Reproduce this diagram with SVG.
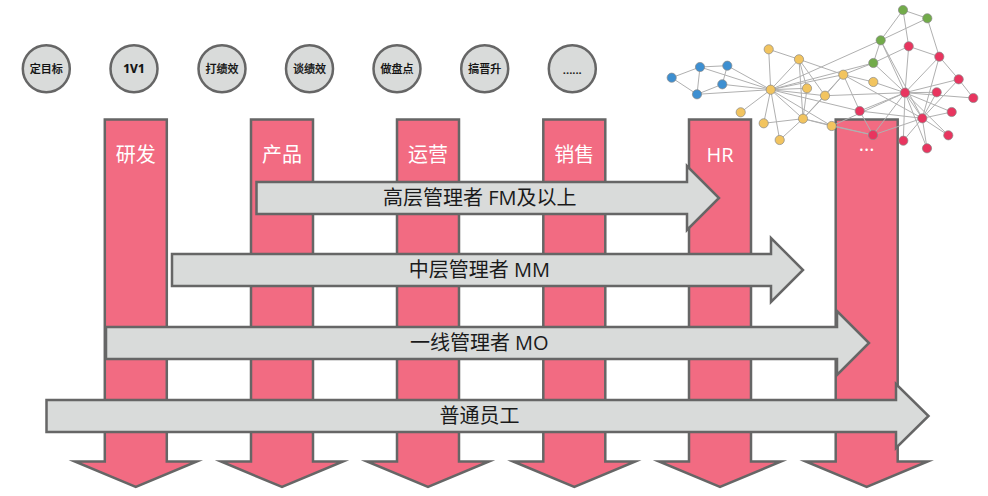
<svg xmlns="http://www.w3.org/2000/svg" width="988" height="496" viewBox="0 0 988 496">
<style>
text{font-family:"Open Sans","Noto Sans CJK SC",sans-serif;text-anchor:middle}
.c{fill:#d9dbda;stroke:#666;stroke-width:2.5}
.ct{font-size:11px;font-weight:500;fill:#111;stroke:#111;stroke-width:.2}
.p{fill:#f26b82;stroke:#666;stroke-width:2.5;stroke-linejoin:miter;stroke-miterlimit:10}
.pt{font-size:20px;fill:#fff}
.a{fill:#d9dbda;stroke:#666;stroke-width:2.5;stroke-miterlimit:10}
.at{font-size:20px;fill:#1a1a1a}
.e{stroke:#b0b0b0;stroke-width:1;fill:none}
.n{stroke:#888;stroke-width:.7}
.g{fill:#72ab4a}.r{fill:#e8355f}.y{fill:#f2c45f}.b{fill:#3d8fd1}
</style>
<defs>
<path id="pillar" d="M-31 119.5H31V461.5H61L0 487L-61 461.5H-31Z"/>
</defs>
<g id="step-1"><circle class="c" cx="46.3" cy="68.7" r="23.5"/><text class="ct" x="46.3" y="72.7">定目标</text></g>
<g id="step-2"><circle class="c" cx="134" cy="68.7" r="23.5"/><text class="ct" x="134" y="72.7" style="font-size:12px;font-weight:700">1V1</text></g>
<g id="step-3"><circle class="c" cx="222" cy="68.7" r="23.5"/><text class="ct" x="222" y="72.7">打绩效</text></g>
<g id="step-4"><circle class="c" cx="309.5" cy="68.7" r="23.5"/><text class="ct" x="309.5" y="72.7">谈绩效</text></g>
<g id="step-5"><circle class="c" cx="397" cy="68.7" r="23.5"/><text class="ct" x="397" y="72.7">做盘点</text></g>
<g id="step-6"><circle class="c" cx="484.7" cy="68.7" r="23.5"/><text class="ct" x="484.7" y="72.7">搞晋升</text></g>
<g id="step-7"><circle class="c" cx="572.3" cy="68.7" r="23.5"/><text class="ct" x="572.3" y="73.5" style="font-size:12px">......</text></g>

<g id="pillar-rd"><use href="#pillar" class="p" x="135.8"/><text class="pt" x="135.8" y="162">研发</text></g>
<g id="pillar-product"><use href="#pillar" class="p" x="282"/><text class="pt" x="282" y="162">产品</text></g>
<g id="pillar-ops"><use href="#pillar" class="p" x="428"/><text class="pt" x="428" y="162">运营</text></g>
<g id="pillar-sales"><use href="#pillar" class="p" x="574.3"/><text class="pt" x="574.3" y="162">销售</text></g>
<g id="pillar-hr"><use href="#pillar" class="p" x="720"/><text class="pt" x="720" y="162">HR</text></g>
<g id="pillar-more"><use href="#pillar" class="p" x="866.7"/><text class="pt" x="866.7" y="151">...</text></g>

<g id="arrow-fm"><path class="a" d="M256.5 182H687V166L719 198L687 230V214H256.5Z"/><text class="at" x="479.7" y="205">高层管理者 FM及以上</text></g>
<g id="arrow-mm"><path class="a" d="M172 254H771V238L803 270L771 302V286H172Z"/><text class="at" x="479.3" y="277">中层管理者 MM</text></g>
<g id="arrow-mo"><path class="a" d="M106 327H837V311L869 343L837 375V359H106Z"/><text class="at" x="479.3" y="350">一线管理者 MO</text></g>
<g id="arrow-staff"><path class="a" d="M46.5 400H896V384L928.5 416L896 448V432H46.5Z"/><text class="at" x="479.5" y="423">普通员工</text></g>

<g id="connectors" class="e">
<path d="M671.7 77.7L700 67M671.7 77.7L697 94.3M700 67L727.3 65.7M700 67L697 94.3M727.3 65.7L722.3 84.3M722.3 84.3L697 94.3M700 67L770.7 89.7M727.3 65.7L770.7 89.7M722.3 84.3L770.7 89.7M697 94.3L770.7 89.7"/>
<path d="M768.7 49.3L770.7 89.7M768.7 49.3L799 59.3M799 59.3L770.7 89.7M799 59.3L807 88.3M799 59.3L825 95.7M799 59.3L803 118.7M799 59.3L843.3 74.7M770.7 89.7L807 88.3M770.7 89.7L825 95.7M770.7 89.7L843.3 74.7M770.7 89.7L740.7 112.3M770.7 89.7L763.7 123.3M770.7 89.7L779.7 140M770.7 89.7L803 118.7M770.7 89.7L831.7 126M770.7 89.7L873.3 63M770.7 89.7L880.7 40.3M770.7 89.7L859.7 111M763.7 123.3L803 118.7M779.7 140L803 118.7M807 88.3L803 118.7M803 118.7L825 95.7M803 118.7L843.3 74.7M803 118.7L831.7 126M843.3 74.7L825 95.7M843.3 74.7L873.3 63M843.3 74.7L873.3 82M843.3 74.7L859.7 111M843.3 74.7L922.3 118.3M825 95.7L905 92.7M873.3 82L905 92.7"/>
<path d="M831.7 126L873 135M803 118.7L873 135M859.7 111L873 135M859.7 111L922.3 118.3M859.7 111L905 92.7M831.7 126L905 92.7M873 135L905 92.7M873 135L922.3 118.3"/>
<path d="M880.7 40.3L903 10M880.7 40.3L927.3 18.3M880.7 40.3L873.3 63M880.7 40.3L905 92.7M880.7 40.3L922.3 118.3M903 10L927.3 18.3M903 10L908.7 46.3M927.3 18.3L939.3 56.7M908.7 46.3L939.3 56.7M908.7 46.3L905 92.7M908.7 46.3L873.3 63M939.3 56.7L958.7 79.3M939.3 56.7L905 92.7M939.3 56.7L922.3 118.3M958.7 79.3L973.3 98M958.7 79.3L905 92.7M958.7 79.3L922.3 118.3M905 92.7L936.7 92.3M905 92.7L973.3 98M905 92.7L951.7 112M905 92.7L922.3 118.3M905 92.7L948.3 135.3M905 92.7L927 148.3M905 92.7L903.3 140.7M873.3 63L905 92.7M936.7 92.3L922.3 118.3M951.7 112L922.3 118.3M922.3 118.3L948.3 135.3M922.3 118.3L927 148.3M922.3 118.3L903.3 140.7"/>
</g>

<g id="gn-g1"><circle class="n g" cx="903" cy="10" r="4.6"/></g>
<g id="gn-g2"><circle class="n g" cx="927.3" cy="18.3" r="4.6"/></g>
<g id="gn-g3"><circle class="n g" cx="880.7" cy="40.3" r="4.6"/></g>
<g id="gn-g4"><circle class="n g" cx="873.3" cy="63" r="4.6"/></g>
<g id="gn-r1"><circle class="n r" cx="908.7" cy="46.3" r="4.6"/></g>
<g id="gn-r2"><circle class="n r" cx="939.3" cy="56.7" r="4.6"/></g>
<g id="gn-r3"><circle class="n r" cx="958.7" cy="79.3" r="4.6"/></g>
<g id="gn-r4"><circle class="n r" cx="973.3" cy="98" r="4.6"/></g>
<g id="gn-r5"><circle class="n r" cx="936.7" cy="92.3" r="4.6"/></g>
<g id="gn-r6"><circle class="n r" cx="905" cy="92.7" r="4.6"/></g>
<g id="gn-r7"><circle class="n r" cx="951.7" cy="112" r="4.6"/></g>
<g id="gn-r8"><circle class="n r" cx="922.3" cy="118.3" r="4.6"/></g>
<g id="gn-r9"><circle class="n r" cx="948.3" cy="135.3" r="4.6"/></g>
<g id="gn-r10"><circle class="n r" cx="927" cy="148.3" r="4.6"/></g>
<g id="gn-r11"><circle class="n r" cx="903.3" cy="140.7" r="4.6"/></g>
<g id="gn-r12"><circle class="n r" cx="873" cy="135" r="4.6"/></g>
<g id="gn-r13"><circle class="n r" cx="859.7" cy="111" r="4.6"/></g>
<g id="gn-y1"><circle class="n y" cx="768.7" cy="49.3" r="4.6"/></g>
<g id="gn-y2"><circle class="n y" cx="799" cy="59.3" r="4.6"/></g>
<g id="gn-y3"><circle class="n y" cx="843.3" cy="74.7" r="4.6"/></g>
<g id="gn-y4"><circle class="n y" cx="873.3" cy="82" r="4.6"/></g>
<g id="gn-y5"><circle class="n y" cx="770.7" cy="89.7" r="4.6"/></g>
<g id="gn-y6"><circle class="n y" cx="807" cy="88.3" r="4.6"/></g>
<g id="gn-y7"><circle class="n y" cx="825" cy="95.7" r="4.6"/></g>
<g id="gn-y8"><circle class="n y" cx="740.7" cy="112.3" r="4.6"/></g>
<g id="gn-y9"><circle class="n y" cx="763.7" cy="123.3" r="4.6"/></g>
<g id="gn-y10"><circle class="n y" cx="803" cy="118.7" r="4.6"/></g>
<g id="gn-y11"><circle class="n y" cx="779.7" cy="140" r="4.6"/></g>
<g id="gn-y12"><circle class="n y" cx="831.7" cy="126" r="4.6"/></g>
<g id="gn-b1"><circle class="n b" cx="671.7" cy="77.7" r="4.6"/></g>
<g id="gn-b2"><circle class="n b" cx="700" cy="67" r="4.6"/></g>
<g id="gn-b3"><circle class="n b" cx="727.3" cy="65.7" r="4.6"/></g>
<g id="gn-b4"><circle class="n b" cx="722.3" cy="84.3" r="4.6"/></g>
<g id="gn-b5"><circle class="n b" cx="697" cy="94.3" r="4.6"/></g>
</svg>
